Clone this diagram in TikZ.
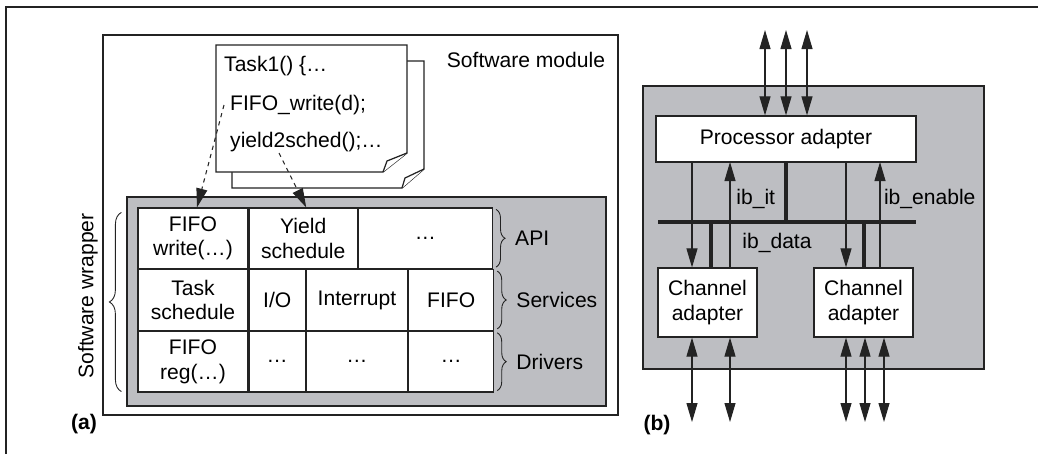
\documentclass[tikz,border=0pt]{standalone}
\usepackage{fontspec}
\setmainfont{Liberation Sans}
\usetikzlibrary{arrows.meta,decorations.pathreplacing,positioning}
\definecolor{wrapgray}{RGB}{189,190,194}
\definecolor{inkgray}{RGB}{35,35,35}

\tikzset{
  every node/.style={font=\fontsize{12}{14}\selectfont},
  cell/.style={draw=inkgray, fill=white, shape=rectangle, inner sep=0pt, align=center, minimum height=1.21cm, line width=0.7pt},
  adapter/.style={draw=inkgray, fill=white, shape=rectangle, inner sep=0pt, align=center, line width=0.7pt},
  panel/.style={draw=inkgray, shape=rectangle, inner sep=0pt, line width=0.8pt},
  pagebox/.style={draw=inkgray, fill=white, line width=0.7pt},
  sig/.style={draw=inkgray, line width=0.6pt},
  tip/.style={-{Triangle[length=0.38cm,width=0.22cm]}},
  bothtips/.style={{Triangle[length=0.38cm,width=0.22cm]}-{Triangle[length=0.38cm,width=0.22cm]}},
  busline/.style={draw=inkgray, line width=1.8pt},
  layerbrace/.style={decorate, decoration={brace, amplitude=0.18cm}, draw=inkgray, line width=0.5pt},
  partlabel/.style={font=\bfseries\fontsize{12}{14}\selectfont},
}

\begin{document}
\begin{tikzpicture}[x=0.02cm, y=-0.02cm]
\useasboundingbox (0,0) rectangle (1038,454);
\draw[line width=0.9pt, draw=inkgray] (6,454) -- (6,7) -- (1038,7);

% (a) software wrapper
\node[panel, fill=white, minimum width=10.3cm, minimum height=7.6cm] (modbox) at (360.5,225) {};
\node[anchor=center] (modlabel) at (526,60) {Software module};
\node[panel, fill=wrapgray, minimum width=9.58cm, minimum height=4.18cm] (wrapbox) at (366.5,301.5) {};

\filldraw[pagebox] (232,61) -- (424,61) -- (424,169) -- (402,188) -- (232,188) -- cycle;
\draw[pagebox] (402,188) -- (405,178) -- (424,169);
\filldraw[pagebox] (216,45) -- (407,45) -- (407,153) -- (383,172) -- (216,172) -- cycle;
\draw[pagebox] (383,172) -- (387,161) -- (407,153);
\node[anchor=west] (tsk) at (218,66) {Task1() \{…};
\node[anchor=west] (fwr) at (224,105) {FIFO\_write(d);};
\node[anchor=west] (yld) at (224,142) {yield2sched();…};

\node[cell, minimum width=2.2cm] (fifow) at (193,238.25) {FIFO\\write(…)};
\node[cell, minimum width=2.16cm, right=0pt of fifow] (yield) {Yield\\schedule};
\node[cell, minimum width=2.68cm, right=0pt of yield] (apidots) {…};
\node[cell, minimum width=2.2cm, below=0pt of fifow] (tasksch) {Task\\schedule};
\node[cell, minimum width=1.12cm, right=0pt of tasksch] (io) {I/O};
\node[cell, minimum width=2.02cm, right=0pt of io] (intr) {Interrupt};
\node[cell, minimum width=1.7cm, right=0pt of intr] (fifo) {FIFO};
\node[cell, minimum width=2.2cm, below=0pt of tasksch] (fiforeg) {FIFO\\reg(…)};
\node[cell, minimum width=1.12cm, right=0pt of fiforeg] (drva) {…};
\node[cell, minimum width=2.02cm, right=0pt of drva] (drvb) {…};
\node[cell, minimum width=1.7cm, right=0pt of drvb] (drvc) {…};

\coordinate (ydstart) at (279,153);
\draw[sig, dash pattern=on 2.4pt off 2.4pt, tip] (fwr.west) -- ([xshift=0.08cm]fifow.north);
\draw[sig, dash pattern=on 2.4pt off 2.4pt, tip] (ydstart) -- ([xshift=0.06cm]yield.north);

\draw[layerbrace] ([xshift=0.06cm,yshift=-0.04cm]apidots.north east) -- ([xshift=0.06cm,yshift=0.04cm]apidots.south east);
\draw[layerbrace] ([xshift=0.06cm,yshift=-0.04cm]fifo.north east) -- ([xshift=0.06cm,yshift=0.04cm]fifo.south east);
\draw[layerbrace] ([xshift=0.06cm,yshift=-0.04cm]drvc.north east) -- ([xshift=0.06cm,yshift=0.04cm]drvc.south east);
\node[right=0.32cm of apidots] (apilabel) {API};
\node[right=0.32cm of fifo] (svclabel) {Services};
\node[right=0.32cm of drvc] (drvlabel) {Drivers};
\draw[layerbrace, decoration={amplitude=0.24cm}] ([xshift=-0.32cm,yshift=0.02cm]fiforeg.south west) -- ([xshift=-0.32cm,yshift=-0.1cm]fifow.north west);
\node[rotate=90] (wraplabel) at (88,296) {Software wrapper};
\node[partlabel] (parta) at (84,424) {(a)};

% (b) channel adapters
\node[panel, fill=wrapgray, minimum width=6.82cm, minimum height=5.66cm] (cabox) at (813.5,227.5) {};
\node[adapter, minimum width=5.2cm, minimum height=0.92cm] (proc) at (786,139) {Processor adapter};
\node[adapter, minimum width=1.98cm, minimum height=1.38cm] (chan1) at (707.5,302.5) {Channel\\adapter};
\node[adapter, minimum width=1.98cm, minimum height=1.38cm] (chan2) at (863.5,302.5) {Channel\\adapter};

\coordinate (busw) at (658,222);
\coordinate (buse) at (916,222);
\coordinate (drop1) at (711,222);
\coordinate (drop2) at (864,222);
\draw[busline] (busw) -- (buse);
\draw[busline] (proc.south) -- (proc.south |- busw);
\draw[busline] (drop1) -- (drop1 |- chan1.north);
\draw[busline] (drop2) -- (drop2 |- chan2.north);

\foreach \name/\px in {ctla/692, itup/730, ctlb/846, enup/880}
  \coordinate (\name) at (\px,162);
\draw[sig, tip] (ctla) -- (ctla |- chan1.north);
\draw[sig, tip] (ctlb) -- (ctlb |- chan2.north);
\draw[sig, tip] (itup |- chan1.north) -- (itup) node[pos=0.65, anchor=west] (itlabel) {ib\_it};
\draw[sig, tip] (enup |- chan2.north) -- (enup) node[pos=0.65, anchor=west, inner sep=2pt] (enlabel) {ib\_enable};
\node (datalabel) at (777,243) {ib\_data};

\foreach \px in {765,786,807} {
  \coordinate (top\px) at (\px,30);
  \draw[sig, bothtips] (top\px) -- (top\px |- proc.north);
}
\foreach \px in {692,730} {
  \coordinate (bot\px) at (\px,422);
  \draw[sig, bothtips] (bot\px |- chan1.south) -- (bot\px);
}
\foreach \px in {846,865,884} {
  \coordinate (bot\px) at (\px,422);
  \draw[sig, bothtips] (bot\px |- chan2.south) -- (bot\px);
}
\node[partlabel] (partb) at (657,425) {(b)};
\end{tikzpicture}
\end{document}
